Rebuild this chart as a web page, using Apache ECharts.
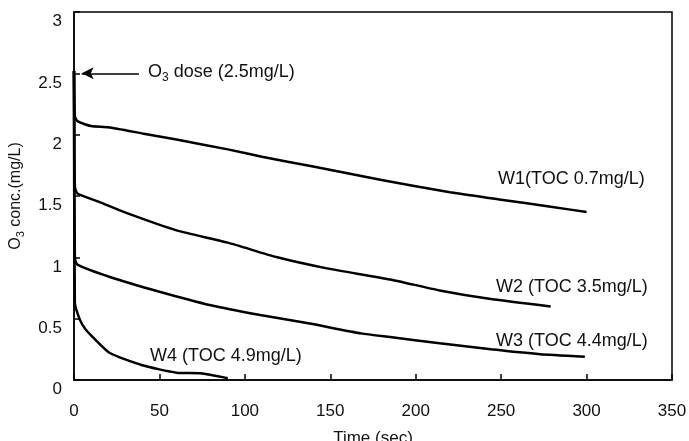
<!DOCTYPE html>
<html>
<head>
<meta charset="utf-8">
<script src="https://cdn.jsdelivr.net/npm/echarts@6/dist/echarts.min.js"></script>
<style>
  html, body { margin: 0; padding: 0; background: #fff; }
  #chart { width: 689px; height: 441px; }
</style>
</head>
<body>
<div id="chart"></div>
<script>
// time (sec) and O3 concentration (mg/L)
var tW1 = [0, 0.5, 2, 10, 20, 40, 60, 90, 110, 140, 180, 220, 250, 280, 300];
var vW1 = [2.52, 2.15, 2.11, 2.07, 2.06, 2.01, 1.96, 1.88, 1.82, 1.74, 1.63, 1.53, 1.47, 1.41, 1.37];

var tW2 = [0, 0.5, 2, 15, 31, 60, 90, 119, 148, 185, 214, 244, 279];
var vW2 = [2.52, 1.58, 1.52, 1.45, 1.36, 1.22, 1.12, 1.0, 0.91, 0.82, 0.73, 0.66, 0.60];

var tW3 = [0, 0.5, 2, 21, 50, 80, 109, 138, 168, 185, 214, 244, 273, 299];
var vW3 = [2.52, 1.0, 0.94, 0.84, 0.72, 0.61, 0.53, 0.46, 0.38, 0.35, 0.30, 0.25, 0.21, 0.19];

var tW4 = [0, 0.5, 3.5, 6.4, 11, 21, 40, 60, 74, 90];
var vW4 = [2.52, 0.63, 0.49, 0.42, 0.35, 0.22, 0.12, 0.06, 0.055, 0.015];

var doseLevel = 2.5;

function pairs(t, v) {
  return t.map(function (x, i) { return [x, v[i]]; });
}

var font = "Liberation Sans";
var chart = echarts.init(document.getElementById("chart"));

function curve(name, t, v) {
  return {
    name: name,
    type: "line",
    data: pairs(t, v),
    showSymbol: false,
    smooth: 0.2,
    lineStyle: { color: "#000", width: 2.5 },
    z: 3
  };
}

var s1 = curve("W1", tW1, vW1);
// arrow pointing at the ozone dose
s1.markLine = {
  silent: true,
  symbolSize: [9, 12],
  lineStyle: { color: "#000", width: 1.5, type: "solid" },
  label: { show: false },
  data: [[
    { coord: [38, doseLevel], symbol: "none" },
    { coord: [4.5, doseLevel], symbol: "arrow" }
  ]]
};

var labelStyle = { fontFamily: font, fontSize: 18, fill: "#111" };

var option = {
  animation: false,
  grid: {
    left: 74, right: 17, top: 12, bottom: 61,
    containLabel: false,
    outerBoundsMode: "none",
    show: true,
    borderColor: "#000",
    borderWidth: 1.5
  },
  xAxis: {
    type: "value",
    min: 0, max: 350, interval: 50,
    name: "Time (sec)",
    nameLocation: "middle",
    nameGap: 50,
    nameTextStyle: { fontFamily: font, fontSize: 17, color: "#111" },
    axisLine: { show: true, lineStyle: { color: "#000", width: 1.5 } },
    axisTick: { show: true, inside: true, length: 6, lineStyle: { color: "#000", width: 1.5 } },
    axisLabel: { fontFamily: font, fontSize: 17, color: "#111", margin: 23 },
    splitLine: { show: false }
  },
  yAxis: {
    type: "value",
    min: 0, max: 3, interval: 0.5,
    name: "{a|O}{s|3}{a| conc.(mg/L)}",
    nameLocation: "middle",
    nameGap: 48,
    nameRotate: 90,
    nameTextStyle: {
      fontFamily: font, color: "#111",
      rich: {
        a: { fontFamily: font, fontSize: 16, color: "#111", lineHeight: 20 },
        s: { fontFamily: font, fontSize: 11, color: "#111", lineHeight: 20, verticalAlign: "bottom" }
      }
    },
    axisLine: { show: true, lineStyle: { color: "#000", width: 1.5 } },
    axisTick: { show: true, inside: true, length: 6, lineStyle: { color: "#000", width: 1.5 } },
    axisLabel: { fontFamily: font, fontSize: 17, color: "#111", margin: 12, verticalAlign: "top", padding: [1, 0, 0, 0] },
    splitLine: { show: false }
  },
  series: [
    s1,
    curve("W2", tW2, vW2),
    curve("W3", tW3, vW3),
    curve("W4", tW4, vW4)
  ],
  graphic: [
    {
      type: "text", left: 148, top: 63,
      style: {
        text: "{a|O}{s|3}{a| dose (2.5mg/L)}",
        rich: {
          a: { fontFamily: font, fontSize: 18, fill: "#111", lineHeight: 24 },
          s: { fontFamily: font, fontSize: 12, fill: "#111", lineHeight: 24, verticalAlign: "bottom" }
        }
      }
    },
    { type: "text", left: 498, top: 170, style: Object.assign({ text: "W1(TOC 0.7mg/L)" }, labelStyle) },
    { type: "text", left: 496, top: 278, style: Object.assign({ text: "W2 (TOC 3.5mg/L)" }, labelStyle) },
    { type: "text", left: 496, top: 332, style: Object.assign({ text: "W3 (TOC 4.4mg/L)" }, labelStyle) },
    { type: "text", left: 150, top: 347, style: Object.assign({ text: "W4 (TOC 4.9mg/L)" }, labelStyle) }
  ]
};

chart.setOption(option);
</script>
</body>
</html>
